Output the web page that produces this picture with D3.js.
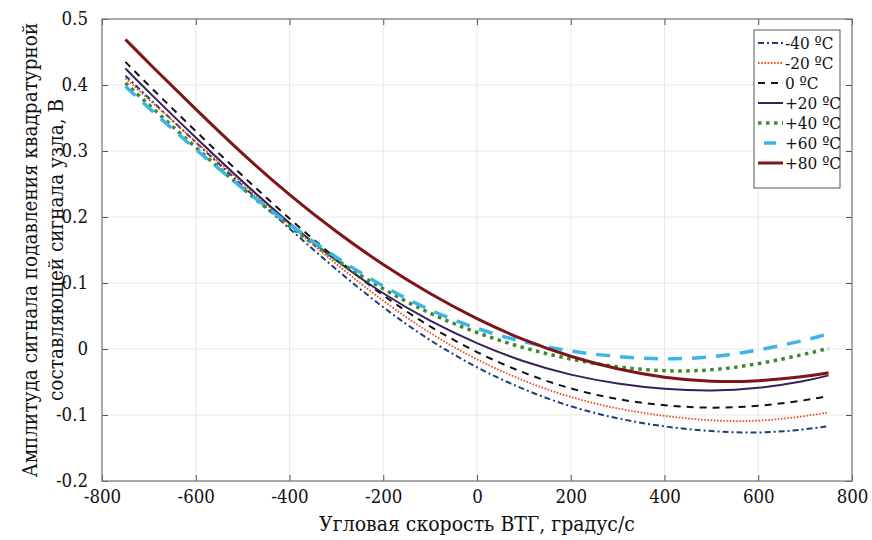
<!DOCTYPE html>
<html>
<head>
<meta charset="utf-8">
<script src="https://cdn.jsdelivr.net/npm/d3@7"></script>
<style>
  body { margin: 0; background: #fff; }
</style>
</head>
<body>
<svg id="chart" width="872" height="540"></svg>
<script>
// angular speed values where the curves were read
let speeds = [-750, -700, -600, -500, -400, -300, -200, -100, 0, 100, 200, 300, 400, 500, 600, 700, 750];

let seriesNames = ["-40 ºC", "-20 ºC", "0 ºC", "+20 ºC", "+40 ºC", "+60 ºC", "+80 ºC"];

let valsM40 = [0.414, 0.380, 0.313, 0.247, 0.182, 0.120, 0.062, 0.012, -0.029, -0.062, -0.088, -0.106, -0.118, -0.125, -0.128, -0.122, -0.117];
let valsM20 = [0.410, 0.378, 0.314, 0.251, 0.188, 0.128, 0.072, 0.023, -0.017, -0.049, -0.074, -0.091, -0.102, -0.109, -0.110, -0.102, -0.096];
let vals0 = [0.435, 0.399, 0.330, 0.262, 0.197, 0.136, 0.080, 0.033, -0.006, -0.037, -0.061, -0.077, -0.086, -0.090, -0.087, -0.078, -0.071];
let valsP20 = [0.425, 0.389, 0.320, 0.253, 0.190, 0.133, 0.083, 0.042, 0.008, -0.020, -0.040, -0.053, -0.061, -0.064, -0.060, -0.049, -0.040];
let valsP40 = [0.403, 0.370, 0.305, 0.243, 0.185, 0.134, 0.090, 0.053, 0.024, 0.001, -0.016, -0.028, -0.034, -0.033, -0.023, -0.008, 0.001];
let valsP60 = [0.398, 0.365, 0.302, 0.243, 0.188, 0.138, 0.094, 0.058, 0.030, 0.010, -0.004, -0.012, -0.016, -0.013, -0.002, 0.013, 0.023];
let valsP80 = [0.469, 0.433, 0.363, 0.295, 0.233, 0.177, 0.127, 0.083, 0.045, 0.013, -0.012, -0.031, -0.044, -0.050, -0.049, -0.042, -0.036];

let xTicks = [-800, -600, -400, -200, 0, 200, 400, 600, 800];
let yTicks = [-0.2, -0.1, 0, 0.1, 0.2, 0.3, 0.4, 0.5];

let allVals = [valsM40, valsM20, vals0, valsP20, valsP40, valsP60, valsP80];

/* line styles per series */
let styles = [
    { color: "#1c3f7e", width: 2, dash: "6,3,2,3" },
    { color: "#e8501e", width: 1.8, dash: "1.6,1.6" },
    { color: "#111111", width: 2, dash: "7,6" },
    { color: "#3a1f5c", width: 2, dash: null },
    { color: "#3b8a2b", width: 3.5, dash: "3.5,4.5" },
    { color: "#3db4ea", width: 3.5, dash: "14,10" },
    { color: "#7f1518", width: 3, dash: null }
];

let margin = { top: 19, left: 102, right: 20, bottom: 59 };
let svgWidth = 872, svgHeight = 540;
let width = svgWidth - margin.left - margin.right;
let height = svgHeight - margin.top - margin.bottom;

// only DejaVu Serif gives serif glyphs here, condensed is closer to Times
let serif = "'DejaVu Serif Condensed', 'DejaVu Serif', serif";

let svg = d3.select("#chart")
    .attr("font-family", serif)
    .attr("font-stretch", "condensed");
let g = svg.append("g").attr("transform", "translate(" + margin.left + "," + margin.top + ")");

let xScale = d3.scaleLinear().domain([-800, 800]).range([0, width]);
let yScale = d3.scaleLinear().domain([-0.2, 0.5]).range([height, 0]);

/* grid */
g.selectAll(".gx").data(xTicks).enter().append("line")
    .attr("x1", d => xScale(d)).attr("x2", d => xScale(d))
    .attr("y1", 0).attr("y2", height)
    .attr("stroke", "#e8e8e8").attr("stroke-width", 1);
g.selectAll(".gy").data(yTicks).enter().append("line")
    .attr("y1", d => yScale(d)).attr("y2", d => yScale(d))
    .attr("x1", 0).attr("x2", width)
    .attr("stroke", "#e8e8e8").attr("stroke-width", 1);

/* axes (ticks pointing inward) */
let xAxis = d3.axisBottom(xScale).tickValues(xTicks).tickSize(-6).tickPadding(9).tickFormat(d => String(d));
let yAxis = d3.axisLeft(yScale).tickValues(yTicks).tickSize(-6).tickPadding(14).tickFormat(d => d === 0 ? "0" : d.toFixed(1));
let xTop = d3.axisTop(xScale).tickValues(xTicks).tickSize(-6).tickFormat("");
let yRight = d3.axisRight(yScale).tickValues(yTicks).tickSize(-6).tickFormat("");

let gx = g.append("g").attr("transform", "translate(0," + height + ")").call(xAxis);
let gy = g.append("g").call(yAxis);
let gt = g.append("g").call(xTop);
let gr = g.append("g").attr("transform", "translate(" + width + ",0)").call(yRight);

[gx, gy, gt, gr].forEach(a => {
    a.attr("font-family", serif).attr("font-size", 18.5);
    a.select(".domain").remove();
    a.selectAll(".tick line").attr("stroke", "#555");
    a.selectAll(".tick text").attr("fill", "#111");
});

/* curves */
let line = d3.line()
    .x(d => xScale(d[0]))
    .y(d => yScale(d[1]))
    .curve(d3.curveBasis);

allVals.forEach((vals, i) => {
    let pts = speeds.map((s, k) => [s, vals[k]]);
    g.append("path")
        .attr("d", line(pts))
        .attr("fill", "none")
        .attr("stroke", styles[i].color)
        .attr("stroke-width", styles[i].width)
        .attr("stroke-dasharray", styles[i].dash);
});

/* box */
g.append("rect")
    .attr("width", width).attr("height", height)
    .attr("fill", "none").attr("stroke", "#777").attr("stroke-width", 1.2);

/* axes labels */
svg.append("text")
    .attr("x", margin.left + width / 2).attr("y", 531)
    .attr("text-anchor", "middle").attr("font-size", 21).attr("fill", "#111")
    .text("Угловая скорость ВТГ, градус/с");

let yLab = svg.append("text")
    .attr("transform", "translate(0," + (margin.top + height / 2) + ") rotate(-90)")
    .attr("text-anchor", "middle").attr("font-size", 20.5).attr("fill", "#111");
yLab.append("tspan").attr("x", 0).attr("y", 37).text("Амплитуда сигнала подавления квадратурной");
yLab.append("tspan").attr("x", 0).attr("y", 63).text("составляющей сигнала узла, В");

/* legend */
let legend = svg.append("g").attr("transform", "translate(754,30)");
legend.append("rect")
    .attr("width", 86).attr("height", 158)
    .attr("fill", "#fff").attr("stroke", "#555").attr("stroke-width", 1);

seriesNames.forEach((name, i) => {
    let item = legend.append("g").attr("transform", "translate(0," + (13 + i * 20) + ")");
    item.append("line")
        .attr("x1", 4).attr("x2", 29)
        .attr("stroke", styles[i].color)
        .attr("stroke-width", styles[i].width)
        .attr("stroke-dasharray", i === 5 ? "0,6,12,10" : styles[i].dash);
    item.append("text")
        .attr("x", 31).attr("y", 6)
        .attr("font-size", 17).attr("fill", "#111")
        .text(name);
});
</script>
</body>
</html>
